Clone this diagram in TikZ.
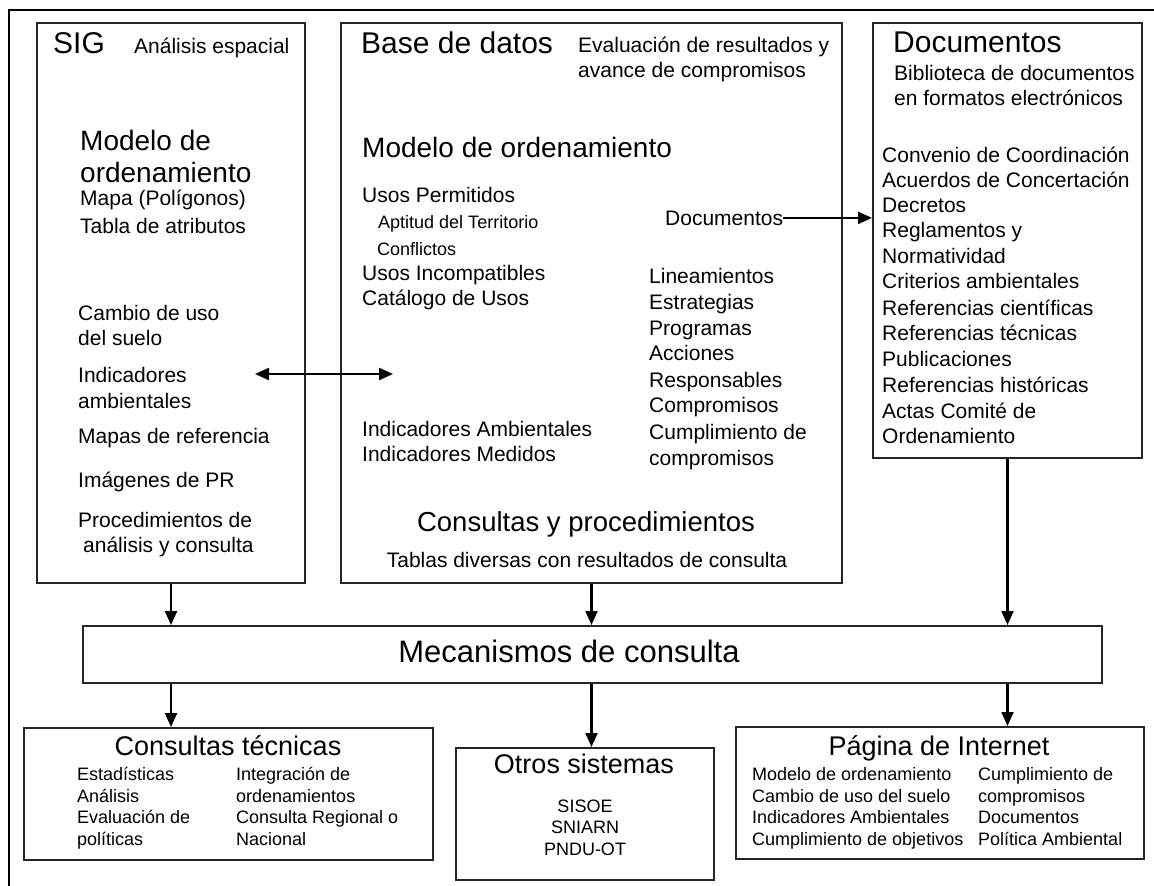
\documentclass[tikz,border=0pt]{standalone}
\usepackage{fontspec}
\setmainfont{Liberation Sans}
\usetikzlibrary{arrows.meta}
\begin{document}
\begin{tikzpicture}[x=1pt,y=-1pt,
  box/.style={draw=black!85, line width=2pt, rectangle, inner sep=0pt},
  frame/.style={draw=black, line width=2.6pt},
  arr/.style={line width=2.2pt, -{Triangle[length=14pt,width=12pt]}},
  darr/.style={line width=2.2pt, {Triangle[length=14pt,width=12pt]}-{Triangle[length=14pt,width=12pt]}},
  tx/.style={anchor=base west, inner sep=0pt, font=\fontsize{21}{25}\selectfont},
  tc/.style={anchor=base, inner sep=0pt, font=\fontsize{21}{25}\selectfont},
  sm/.style={font=\fontsize{18}{22}\selectfont},
  big/.style={font=\fontsize{30}{36}\selectfont},
  mid/.style={font=\fontsize{28}{34}\selectfont},
  sub/.style={font=\fontsize{27}{32}\selectfont}
]
\useasboundingbox (0,0) rectangle (1154,886);
% outer frame: only left and top edges lie inside the picture
\coordinate (fbl) at (9,886);
\coordinate (ftl) at (9,10);
\coordinate (ftr) at (1154,10);
\draw[frame] (fbl) -- (ftl) -- (ftr);

% main boxes
\node[box, minimum width=268pt, minimum height=560pt] (sig) at (171,303) {};
\node[box, minimum width=501pt, minimum height=560pt] (bd) at (591.5,303) {};
\node[box, minimum width=269pt, minimum height=435pt] (doc) at (1007.5,240.5) {};
\node[box, minimum width=1019pt, minimum height=57pt] (mec) at (592.5,654.5) {};
\node[box, minimum width=409pt, minimum height=132pt] (ct) at (228.5,794) {};
\node[box, minimum width=258pt, minimum height=132pt] (os) at (585,814) {};
\node[box, minimum width=408pt, minimum height=132pt] (pi) at (940,793) {};

% SIG box texts
\node[tx,big] (sigT) at (53,53) {SIG};
\node[tx] (sigS) at (134,53) {Análisis espacial};
\node[tx,mid] (sig1) at (80,150) {Modelo de};
\node[tx,mid] (sig2) at (80,182) {ordenamiento};
\node[tx] (sig3) at (80,205) {Mapa (Polígonos)};
\node[tx] (sig4) at (80,233) {Tabla de atributos};
\node[tx] (sig5) at (78,320) {Cambio de uso};
\node[tx] (sig6) at (78,345) {del suelo};
\node[tx] (sig7) at (78,382) {Indicadores};
\node[tx] (sig8) at (78,408) {ambientales};
\node[tx] (sig9) at (78,443) {Mapas de referencia};
\node[tx] (sig10) at (78,487) {Imágenes de PR};
\node[tx] (sig11) at (78,527) {Procedimientos de};
\node[tx] (sig12) at (83,552) {análisis y consulta};

% Base de datos texts
\node[tx,big] (bdT) at (361,53) {Base de datos};
\node[tx] (bdS1) at (578,52) {Evaluación de resultados y};
\node[tx] (bdS2) at (578,77) {avance de compromisos};
\node[tx,mid] (bdM) at (362,157) {Modelo de ordenamiento};
\node[tx] (bd1) at (362,202) {Usos Permitidos};
\node[tx,sm] (bd2) at (378,228) {Aptitud del Territorio};
\node[tx,sm] (bd3) at (377,255) {Conflictos};
\node[tx] (bd4) at (362,280) {Usos Incompatibles};
\node[tx] (bd5) at (362,305) {Catálogo de Usos};
\node[tx] (bd6) at (362,436) {Indicadores Ambientales};
\node[tx] (bd7) at (362,461) {Indicadores Medidos};
\node[tx] (bdDoc) at (665,225) {Documentos};
\node[tx] (bdr1) at (649,283) {Lineamientos};
\node[tx] (bdr2) at (649,309) {Estrategias};
\node[tx] (bdr3) at (649,335) {Programas};
\node[tx] (bdr4) at (649,360) {Acciones};
\node[tx] (bdr5) at (649,387) {Responsables};
\node[tx] (bdr6) at (649,412) {Compromisos};
\node[tx] (bdr7) at (649,439) {Cumplimiento de};
\node[tx] (bdr8) at (649,465) {compromisos};
\node[tc,font=\fontsize{27.5}{32}\selectfont] (bdC) at (586,531) {Consultas y procedimientos};
\node[tc] (bdC2) at (587,567) {Tablas diversas con resultados de consulta};

% Documentos texts
\node[tx,big] (docT) at (893,52) {Documentos};
\node[tx] (docS1) at (894,80) {Biblioteca de documentos};
\node[tx] (docS2) at (894,105) {en formatos electrónicos};
\node[tx] (doc1) at (882,162) {Convenio de Coordinación};
\node[tx] (doc2) at (882,187) {Acuerdos de Concertación};
\node[tx] (doc3) at (882,212) {Decretos};
\node[tx] (doc4) at (882,237) {Reglamentos y};
\node[tx] (doc5) at (882,263) {Normatividad};
\node[tx] (doc6) at (882,288) {Criterios ambientales};
\node[tx] (doc7) at (882,315) {Referencias científicas};
\node[tx] (doc8) at (882,340) {Referencias técnicas};
\node[tx] (doc9) at (882,366) {Publicaciones};
\node[tx] (doc10) at (882,392) {Referencias históricas};
\node[tx] (doc11) at (882,418) {Actas Comité de};
\node[tx] (doc12) at (882,443) {Ordenamiento};

% Mecanismos
\node[tc,font=\fontsize{31}{36}\selectfont] (mecT) at (569,662) {Mecanismos de consulta};

% Consultas tecnicas
\node[tc,sub] (ctT) at (228,755) {Consultas técnicas};
\node[tx,sm] (ct1) at (77,780) {Estadísticas};
\node[tx,sm] (ct2) at (77,802) {Análisis};
\node[tx,sm] (ct3) at (77,823) {Evaluación de};
\node[tx,sm] (ct4) at (77,845) {políticas};
\node[tx,sm] (ct5) at (236,780) {Integración de};
\node[tx,sm] (ct6) at (236,802) {ordenamientos};
\node[tx,sm] (ct7) at (236,823) {Consulta Regional o};
\node[tx,sm] (ct8) at (236,845) {Nacional};

% Otros sistemas
\node[tc,sub] (osT) at (584,773) {Otros sistemas};
\node[tc,sm] (os1) at (585,812) {SISOE};
\node[tc,sm] (os2) at (585,833) {SNIARN};
\node[tc,sm] (os3) at (585,855) {PNDU-OT};

% Pagina de Internet
\node[tc,sub] (piT) at (939,755) {Página de Internet};
\node[tx,sm] (pi1) at (752,780) {Modelo de ordenamiento};
\node[tx,sm] (pi2) at (752,802) {Cambio de uso del suelo};
\node[tx,sm] (pi3) at (752,823) {Indicadores Ambientales};
\node[tx,sm] (pi4) at (752,845) {Cumplimiento de objetivos};
\node[tx,sm] (pi5) at (978,780) {Cumplimiento de};
\node[tx,sm] (pi6) at (978,802) {compromisos};
\node[tx,sm] (pi7) at (978,823) {Documentos};
\node[tx,sm] (pi8) at (978,845) {Política Ambiental};

% connectors
\coordinate (dl) at (255,374);
\coordinate (dr) at (393,374);
\draw[darr] (dl) -- (dr);
\draw[arr] (bdDoc.east) -- (doc.west |- bdDoc.east);
\draw[arr] (sig.south) -- (sig.south |- mec.north);
\draw[arr] (bd.south) -- (bd.south |- mec.north);
\draw[arr] (doc.south) -- (doc.south |- mec.north);
\draw[arr] (mec.south -| sig.south) -- (ct.north -| sig.south);
\draw[arr] (mec.south -| bd.south) -- (os.north -| bd.south);
\draw[arr] (mec.south -| doc.south) -- (pi.north -| doc.south);
\end{tikzpicture}
\end{document}
